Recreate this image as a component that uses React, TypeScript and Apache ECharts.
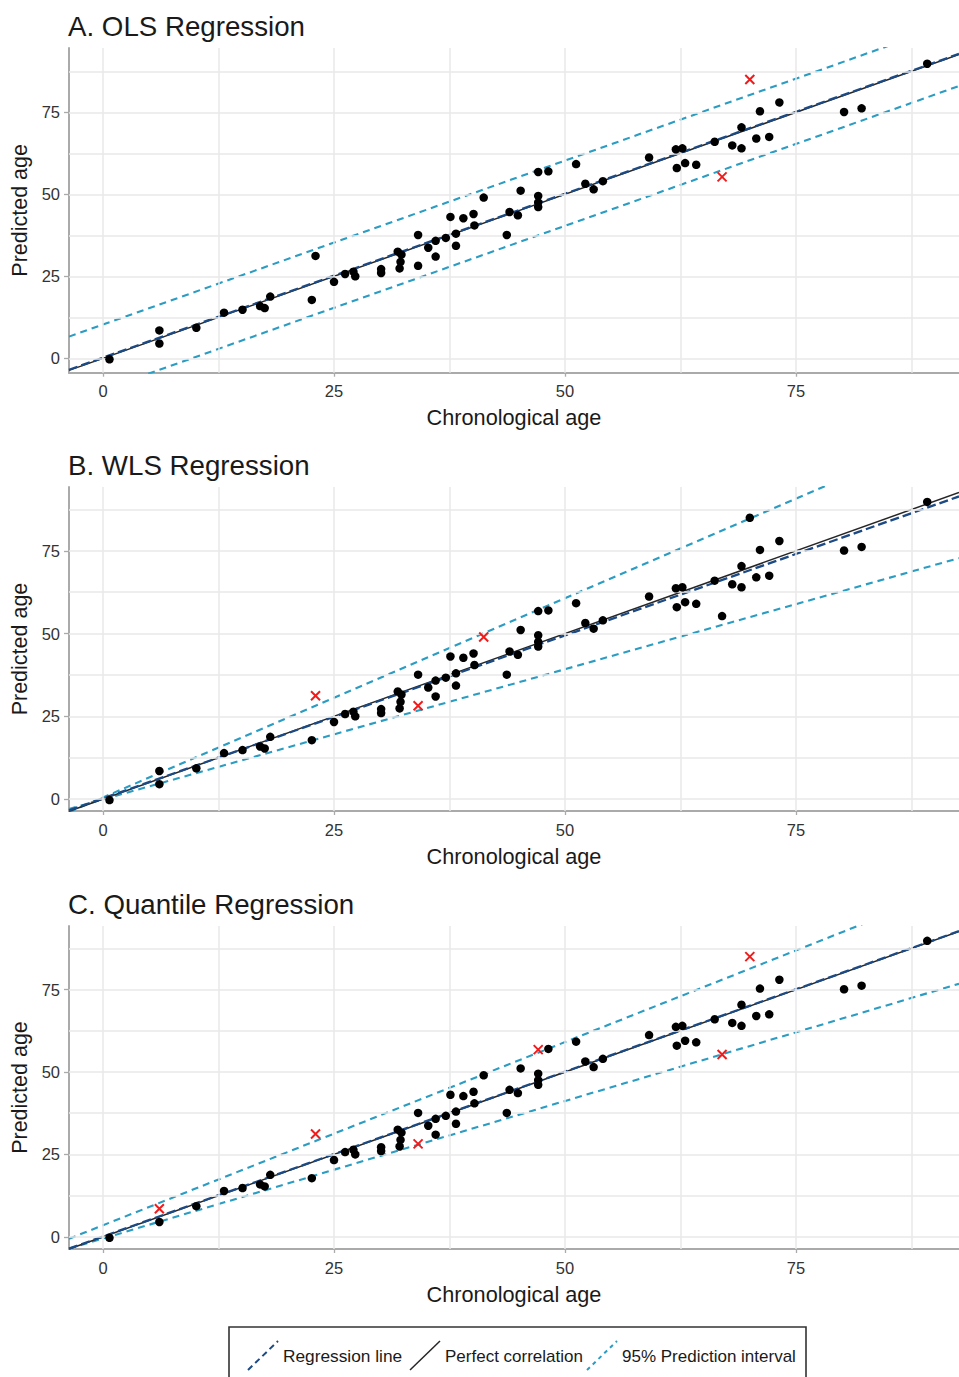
import React, { useEffect, useRef } from "react";
import * as echarts from "echarts";

// ---- data ----
const panelTitles = ["A. OLS Regression", "B. WLS Regression", "C. Quantile Regression"];
const xAxisTitle = "Chronological age";
const yAxisTitle = "Predicted age";
const tickValues = [0, 25, 50, 75];
const gridValues = [0, 12.5, 25, 37.5, 50, 62.5, 75, 87.5];

const chronologicalAge = [
  0.7, 6.1, 6.1, 10.1, 13.1, 15.1, 17.0, 17.5, 18.1, 22.6, 23.0, 25.0, 26.2, 27.1, 27.3, 30.1, 30.1,
  31.9, 32.3, 32.2, 32.1, 34.1, 34.1, 35.2, 36.0, 36.0, 37.1, 37.6, 38.2, 38.2, 39.0, 40.1, 40.2,
  41.2, 43.7, 44.0, 44.9, 45.2, 47.1, 47.1, 47.1, 47.1, 48.2, 51.2, 52.2, 53.1, 54.1, 59.1, 62.0,
  62.7, 62.1, 63.0, 64.2, 66.2, 67.0, 68.1, 69.1, 69.1, 70.0, 70.7, 71.1, 72.1, 73.2, 80.2, 82.1, 89.2,
];
const predictedAge = [
  -0.3, 8.5, 4.5, 9.3, 13.9, 14.8, 15.9, 15.3, 18.8, 17.8, 31.2, 23.3, 25.7, 26.4, 25.0, 27.2, 26.0,
  32.5, 31.6, 29.4, 27.4, 28.2, 37.6, 33.7, 35.8, 31.0, 36.7, 43.1, 38.0, 34.3, 42.7, 44.0, 40.5,
  49.0, 37.6, 44.6, 43.6, 51.1, 56.8, 49.5, 47.5, 46.1, 57.0, 59.2, 53.2, 51.5, 54.0, 61.2, 63.7,
  64.0, 58.0, 59.5, 59.0, 66.0, 55.3, 64.9, 64.0, 70.4, 85.0, 67.0, 75.3, 67.5, 78.0, 75.1, 76.2, 89.8,
];

// indices of points flagged as outside the 95% prediction interval (red crosses)
const olsOutliers = [54, 58];
const wlsOutliers = [10, 21, 33];
const qrOutliers = [1, 10, 21, 38, 54, 58];

// line end points (x at left / right edge of the plot)
const xMin = -3.68;
const xMax = 92.64;
const lineEnds = [xMin, xMax];
const perfectLine = [-3.68, 92.64];
const olsFit = [-3.5, 92.8];
const olsUpper = [6.6, 102.9];
const olsLower = [-13.3, 83.0];
const wlsFit = [-3.4, 91.45];
const wlsUpper = [-3.93, 112.0];
const wlsLower = [-3.0, 72.8];
const qrFit = [-3.58, 92.74];
const qrUpper = [-0.59, 106.5];
const qrLower = [-3.57, 76.76];

const legendLabels = ["Regression line", "Perfect correlation", "95% Prediction interval"];

// ---- styling ----
const FONT = '"Liberation Sans", Arial, Helvetica, sans-serif';
const COL_FIT = "#1b4a85";
const COL_PERFECT = "#262626";
const COL_PI = "#2b9cc2";
const COL_OUT = "#f01c1c";
const COL_GRID = "#e8e8e8";
const COL_AXIS = "#aaaaaa";

const panels = [
  { title: panelTitles[0], top: 48, height: 324.7, yMin: -4.4, yMax: 94.6, fit: olsFit, upper: olsUpper, lower: olsLower, outliers: olsOutliers },
  { title: panelTitles[1], top: 487, height: 324, yMin: -3.6, yMax: 94.3, fit: wlsFit, upper: wlsUpper, lower: wlsLower, outliers: wlsOutliers },
  { title: panelTitles[2], top: 926, height: 323, yMin: -3.7, yMax: 94.3, fit: qrFit, upper: qrUpper, lower: qrLower, outliers: qrOutliers },
];

function buildOption() {
  const series: any[] = [];
  panels.forEach((p, i) => {
    const axes = { xAxisIndex: i, yAxisIndex: i };
    // grid lines
    series.push({
      ...axes,
      type: "line",
      data: [[xMin, p.yMin]],
      symbol: "none",
      lineStyle: { width: 0 },
      z: 0,
      silent: true,
      markLine: {
        silent: true,
        symbol: ["none", "none"],
        label: { show: false },
        emphasis: { disabled: true },
        lineStyle: { color: COL_GRID, width: 1.5, type: "solid" },
        data: [...gridValues.map((v) => ({ xAxis: v })), ...gridValues.map((v) => ({ yAxis: v }))],
      },
    });
    const line = (ys: number[], color: string, width: number, type: any, z: number) => ({
      ...axes,
      type: "line",
      data: lineEnds.map((x, k) => [x, ys[k]]),
      symbol: "none",
      clip: true,
      silent: true,
      lineStyle: { color, width, type, opacity: 1 },
      z,
    });
    series.push(line(p.upper, COL_PI, 2.1, [7, 5], 2));
    series.push(line(p.lower, COL_PI, 2.1, [7, 5], 2));
    series.push(line(perfectLine, COL_PERFECT, 1.5, "solid", 3));
    series.push(line(p.fit, COL_FIT, 2.3, [9, 4], 4));
    const normal: number[][] = [];
    const out: number[][] = [];
    chronologicalAge.forEach((x, k) => {
      if (p.outliers.includes(k)) out.push([x, predictedAge[k]]);
      else normal.push([x, predictedAge[k]]);
    });
    series.push({
      ...axes,
      type: "scatter",
      data: normal,
      symbol: "circle",
      symbolSize: 8.5,
      itemStyle: { color: "#000", opacity: 1 },
      z: 5,
      silent: true,
    });
    series.push({
      ...axes,
      type: "scatter",
      data: out,
      symbol: "path://M0,0L10,10M10,0L0,10",
      symbolSize: 9,
      itemStyle: { color: COL_OUT, borderColor: COL_OUT, borderWidth: 2, opacity: 1 },
      z: 6,
      silent: true,
    });
  });

  const legendY = 1356;
  const legendFont = 17.3;
  const graphic: any[] = [
    {
      type: "rect",
      shape: { x: 229, y: 1327, width: 577, height: 70 },
      style: { fill: "#fff", stroke: "#333", lineWidth: 1.6 },
    },
    { type: "line", shape: { x1: 248, y1: 1370, x2: 278, y2: 1341 }, style: { stroke: COL_FIT, lineWidth: 2, lineDash: [6, 4] } },
    { type: "text", x: 283, y: legendY, style: { text: legendLabels[0], fontSize: legendFont, fontFamily: FONT, fill: "#1a1a1a", verticalAlign: "middle" } },
    { type: "line", shape: { x1: 410, y1: 1370, x2: 440, y2: 1341 }, style: { stroke: COL_PERFECT, lineWidth: 1.5 } },
    { type: "text", x: 445, y: legendY, style: { text: legendLabels[1], fontSize: legendFont - 0.3, fontFamily: FONT, fill: "#1a1a1a", verticalAlign: "middle" } },
    { type: "line", shape: { x1: 587, y1: 1370, x2: 617, y2: 1341 }, style: { stroke: COL_PI, lineWidth: 2, lineDash: [4, 4] } },
    { type: "text", x: 622, y: legendY, style: { text: legendLabels[2], fontSize: legendFont - 0.3, fontFamily: FONT, fill: "#1a1a1a", verticalAlign: "middle" } },
  ];

  return {
    animation: false,
    backgroundColor: "#fff",
    textStyle: { fontFamily: FONT },
    title: panels.map((p) => ({
      text: p.title,
      left: 68,
      top: p.top - 37,
      padding: 0,
      textStyle: { fontSize: 27.7, fontWeight: "normal", color: "#1a1a1a", fontFamily: FONT, lineHeight: 30 },
    })),
    grid: panels.map((p) => ({ left: 69, right: 0, top: p.top, height: p.height })),
    xAxis: panels.map((p, i) => ({
      type: "value",
      gridIndex: i,
      min: xMin,
      max: xMax,
      name: xAxisTitle,
      nameLocation: "middle",
      nameGap: 34,
      nameTextStyle: { fontSize: 21.7, color: "#1a1a1a", fontFamily: FONT },
      axisLine: { show: true, onZero: false, lineStyle: { color: COL_AXIS, width: 2 } },
      axisTick: { show: true, length: 4, customValues: tickValues, lineStyle: { color: COL_AXIS, width: 1.3 } },
      axisLabel: { show: true, customValues: tickValues, margin: 10, fontSize: 16.5, color: "#333333", fontFamily: FONT },
      splitLine: { show: false },
    })),
    yAxis: panels.map((p, i) => ({
      type: "value",
      gridIndex: i,
      min: p.yMin,
      max: p.yMax,
      name: yAxisTitle,
      nameLocation: "middle",
      nameGap: 37,
      nameRotate: 90,
      nameTextStyle: { fontSize: 21.5, color: "#1a1a1a", fontFamily: FONT },
      axisLine: { show: true, onZero: false, lineStyle: { color: COL_AXIS, width: 2 } },
      axisTick: { show: true, length: 5, customValues: tickValues, lineStyle: { color: COL_AXIS, width: 1.3 } },
      axisLabel: { show: true, customValues: tickValues, margin: 9, fontSize: 16.5, color: "#333333", fontFamily: FONT },
      splitLine: { show: false },
    })),
    series,
    graphic,
  };
}

export default function App() {
  const ref = useRef<HTMLDivElement>(null);
  useEffect(() => {
    if (!ref.current) return;
    const chart = echarts.init(ref.current, null, { renderer: "svg" });
    chart.setOption(buildOption() as any);
    return () => chart.dispose();
  }, []);
  return (
    <div
      ref={ref}
      style={{ position: "fixed", left: 0, top: 0, width: 959, height: 1377, background: "#fff" }}
    />
  );
}
